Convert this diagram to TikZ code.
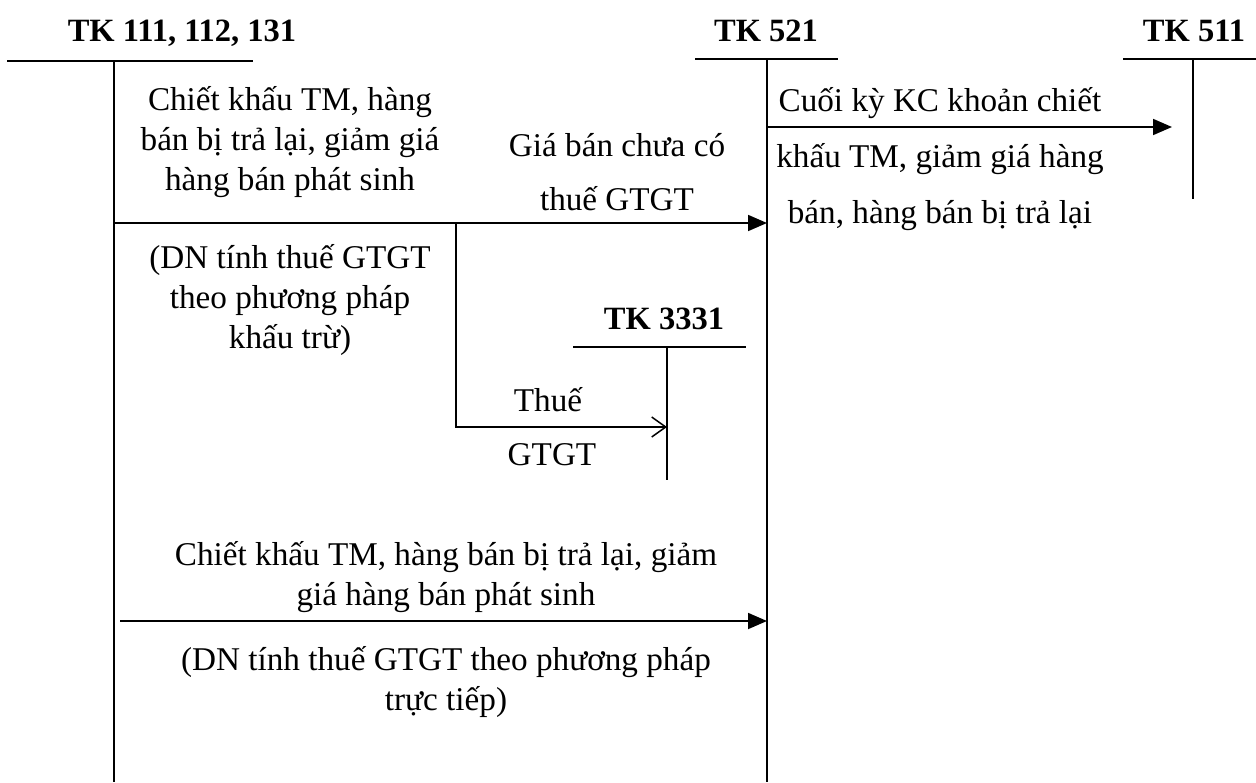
\documentclass[tikz,border=0pt]{standalone}
\usepackage{fontspec}
\setmainfont{Liberation Serif}
\usetikzlibrary{arrows.meta}
\tikzset{
  acct/.style={line width=1.8pt},
  flow/.style={line width=1.8pt,-{Triangle[length=19pt,width=16pt]}},
  openflow/.style={line width=1.5pt,-{Straight Barb[length=14pt,width=20pt,line width=1.5pt]}},
  title/.style={font=\fontsize{32.5}{38}\selectfont\bfseries,inner sep=0pt,anchor=base},
  lbl/.style={font=\fontsize{33.2}{40}\selectfont,align=center,inner sep=0pt},
  lblwide/.style={font=\fontsize{33.2}{54}\selectfont,align=center,inner sep=0pt},
  lblwider/.style={font=\fontsize{33.2}{56}\selectfont,align=center,inner sep=0pt}
}
\begin{document}
\begin{tikzpicture}[x=1pt,y=-1pt]
\useasboundingbox (0,0) rectangle (1256,782);
% account titles
\node[title] (t111) at (182,41) {TK 111, 112, 131};
\node[title] (t521) at (766,41) {TK 521};
\node[title] (t511) at (1194,41) {TK 511};
\node[title] (t3331) at (664,329) {TK 3331};
% T-account coordinates
\coordinate (a1L) at (7,61);   \coordinate (a1R) at (253,61);
\coordinate (a1T) at (114,61); \coordinate (a1B) at (114,782);
\coordinate (a2L) at (695,59); \coordinate (a2R) at (838,59);
\coordinate (a2T) at (767,59); \coordinate (a2B) at (767,782);
\coordinate (a3L) at (1123,59); \coordinate (a3R) at (1256,59);
\coordinate (a3T) at (1193,59); \coordinate (a3B) at (1193,199);
\coordinate (a4L) at (573,347); \coordinate (a4R) at (746,347);
\coordinate (a4T) at (667,347); \coordinate (a4B) at (667,480);
\draw[acct] (a1L) -- (a1R); \draw[acct] (a1T) -- (a1B);
\draw[acct] (a2L) -- (a2R); \draw[acct] (a2T) -- (a2B);
\draw[acct] (a3L) -- (a3R); \draw[acct] (a3T) -- (a3B);
\draw[acct] (a4L) -- (a4R); \draw[acct] (a4T) -- (a4B);
% flow coordinates
\coordinate (f1s) at (114,223); \coordinate (f1e) at (767,223);
\coordinate (br) at (456,223);  \coordinate (brc) at (456,427);
\coordinate (f2e) at (667,427);
\coordinate (f3s) at (767,127); \coordinate (f3e) at (1172,127);
\coordinate (f4s) at (120,621); \coordinate (f4e) at (767,621);
\draw[flow] (f1s) -- (f1e);
\draw[openflow] (br) -- (brc) -- (f2e);
\draw[flow] (f3s) -- (f3e);
\draw[flow] (f4s) -- (f4e);
% labels
\node[lbl] (l1) at (290,142) {Chiết khấu TM, hàng\\bán bị trả lại, giảm giá\\hàng bán phát sinh};
\node[lbl] (l2) at (290,300) {(DN tính thuế GTGT\\theo phương pháp\\khấu trừ)};
\node[lblwide] (l3) at (617,172) {Giá bán chưa có\\thuế GTGT};
\node[lbl] (l4) at (548,400) {Thuế};
\node[lbl] (l5) at (552,455) {GTGT};
\node[lblwider] (l6) at (940,159) {Cuối kỳ KC khoản chiết\\khấu TM, giảm giá hàng\\bán, hàng bán bị trả lại};
\node[lbl] (l7) at (446,577) {Chiết khấu TM, hàng bán bị trả lại, giảm\\giá hàng bán phát sinh};
\node[lbl] (l8) at (446,682) {(DN tính thuế GTGT theo phương pháp\\trực tiếp)};
\end{tikzpicture}
\end{document}
